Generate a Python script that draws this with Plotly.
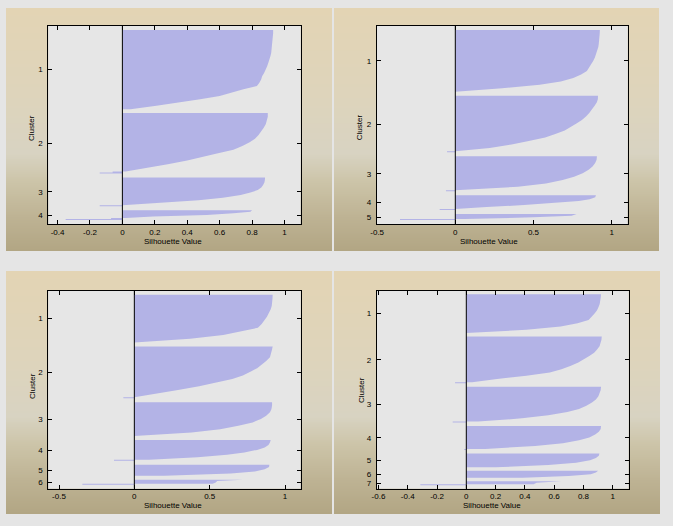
import zlib, struct, base64
import plotly.graph_objects as go

W, H = 673, 526

# ---------------- data ----------------
# Panel 1 : 4 clusters
P1_XTICKS = [-0.4, -0.2, 0, 0.2, 0.4, 0.6, 0.8, 1]
P1_XTICKTEXT = ["-0.4", "-0.2", "0", "0.2", "0.4", "0.6", "0.8", "1"]
P1_XRANGE = [-0.457, 1.1]
P1_SIZES = [80, 61, 29, 10]
P1_SPACE = 4
P1_PROFILES = [
    [0.93, 0.93, 0.928, 0.927, 0.926, 0.924, 0.922, 0.918, 0.913, 0.908, 0.90, 0.893, 0.885,
     0.875, 0.862, 0.856, 0.845, 0.83, 0.747, 0.675, 0.60, 0.48, 0.356, 0.21, 0.05],
    [0.897, 0.897, 0.892, 0.885, 0.872, 0.857, 0.84, 0.818, 0.785, 0.74, 0.685, 0.59, 0.50,
     0.40, 0.28, 0.16, 0.02],
    [0.88, 0.879, 0.876, 0.868, 0.857, 0.835, 0.79, 0.73, 0.62, 0.47, 0.26, 0.03],
    [0.80, 0.79, 0.685, 0.52, 0.19, 0.02],
]
P1_NEG = [[], [-0.06, -0.14], [-0.14], [-0.07, -0.35]]

# Panel 2 : 5 clusters
P2_XTICKS = [-0.5, 0, 0.5, 1]
P2_XTICKTEXT = ["-0.5", "0", "0.5", "1"]
P2_XRANGE = [-0.503, 1.103]
P2_SIZES = [62, 57, 35, 15, 6]
P2_SPACE = 4
P2_PROFILES = [
    [0.925, 0.924, 0.923, 0.921, 0.918, 0.915, 0.909, 0.902, 0.893, 0.883, 0.870, 0.855,
     0.842, 0.805, 0.755, 0.675, 0.54, 0.30, 0.03],
    [0.913, 0.912, 0.905, 0.89, 0.876, 0.857, 0.836, 0.81, 0.775, 0.74, 0.70, 0.64, 0.575,
     0.47, 0.36, 0.22, 0.015],
    [0.906, 0.904, 0.895, 0.878, 0.853, 0.815, 0.76, 0.687, 0.58, 0.40, 0.05],
    [0.90, 0.895, 0.86, 0.79, 0.64, 0.44, 0.20, 0.02],
    [0.776, 0.744, 0.50, 0.06],
]
P2_NEG = [[], [-0.053], [-0.06], [-0.10], [-0.354]]

# Panel 3 : 6 clusters
P3_XTICKS = [-0.5, 0, 0.5, 1]
P3_XTICKTEXT = ["-0.5", "0", "0.5", "1"]
P3_XRANGE = [-0.571, 1.104]
P3_SIZES = [48, 52, 34, 21, 11, 5]
P3_SPACE = 4
P3_PROFILES = [
    [0.918, 0.917, 0.915, 0.912, 0.905, 0.895, 0.88, 0.862, 0.845, 0.82, 0.715, 0.59, 0.37, 0.02],
    [0.918, 0.913, 0.908, 0.90, 0.875, 0.845, 0.815, 0.77, 0.72, 0.65, 0.54, 0.43, 0.29, 0.14, 0.015],
    [0.914, 0.914, 0.91, 0.90, 0.875, 0.84, 0.785, 0.69, 0.57, 0.38, 0.04],
    [0.905, 0.90, 0.89, 0.865, 0.815, 0.73, 0.615, 0.42, 0.10],
    [0.896, 0.894, 0.865, 0.80, 0.64, 0.20],
    [0.72, 0.55, 0.54, 0.52],
]
P3_NEG = [[], [-0.073], [], [-0.135], [], [-0.345]]

# Panel 4 : 7 clusters
P4_XTICKS = [-0.6, -0.4, -0.2, 0, 0.2, 0.4, 0.6, 0.8, 1]
P4_XTICKTEXT = ["-0.6", "-0.4", "-0.2", "0", "0.2", "0.4", "0.6", "0.8", "1"]
P4_XRANGE = [-0.612, 1.109]
P4_SIZES = [39, 47, 36, 24, 14, 7, 4]
P4_SPACE = 3.5
P4_PROFILES = [
    [0.92, 0.918, 0.916, 0.911, 0.903, 0.893, 0.876, 0.858, 0.835, 0.76, 0.645, 0.41, 0.07],
    [0.925, 0.923, 0.918, 0.91, 0.893, 0.873, 0.84, 0.805, 0.765, 0.71, 0.65, 0.57, 0.41, 0.21, 0.04],
    [0.92, 0.918, 0.912, 0.902, 0.885, 0.858, 0.82, 0.77, 0.69, 0.56, 0.38, 0.08],
    [0.92, 0.918, 0.905, 0.88, 0.84, 0.77, 0.66, 0.47, 0.13],
    [0.909, 0.905, 0.885, 0.845, 0.75, 0.56, 0.20],
    [0.90, 0.885, 0.85, 0.70, 0.385],
    [0.647, 0.48, 0.46],
]
P4_NEG = [[], [-0.077], [-0.093], [-0.014], [], [], [-0.314]]

# ---------------- styling ----------------
FIG_BG = "#e5e5e5"
PLOT_BG = "#e6e6e6"
BAR_COLOR = "rgb(179,179,230)"
FONT = dict(family="Liberation Sans, Arial, sans-serif", size=8, color="black")

# panel rectangles (px) and axes rectangles (px)
PANEL_PX = [(6, 8, 332, 251), (334, 8, 659, 251), (6, 271, 332, 514), (334, 271, 660, 514)]
AXES_PX = [(48.3, 26, 300.7, 224), (376.7, 26, 627.7, 224),
           (48.3, 290.7, 300.7, 488.7), (376.7, 290.7, 628.7, 488.7)]
XTITLE_PX = [(173.3, 241), (489.3, 241), (173.3, 505), (492.3, 505)]
YTITLE_PX = [(32, 128), (359.3, 127), (32.3, 385.7), (361, 390)]

GRAD_STOPS = [(0.0, (227, 212, 180)), (0.35, (222, 212, 187)), (0.6, (216, 211, 194)),
              (0.72, (204, 196, 168)), (0.86, (190, 179, 148)), (1.0, (178, 166, 132))]


def gradient_png(stops, h=256):
    raw = b""
    for i in range(h):
        t = i / (h - 1)
        for k in range(len(stops) - 1):
            t0, c0 = stops[k]
            t1, c1 = stops[k + 1]
            if t0 <= t <= t1:
                f = (t - t0) / (t1 - t0)
                c = [int(round(c0[j] + (c1[j] - c0[j]) * f)) for j in range(3)]
                break
        raw += b"\x00" + bytes(c)

    def chunk(tag, data):
        return (struct.pack(">I", len(data)) + tag + data +
                struct.pack(">I", zlib.crc32(tag + data) & 0xFFFFFFFF))

    png = (b"\x89PNG\r\n\x1a\n" +
           chunk(b"IHDR", struct.pack(">IIBBBBB", 1, h, 8, 2, 0, 0, 0)) +
           chunk(b"IDAT", zlib.compress(raw)) + chunk(b"IEND", b""))
    return "data:image/png;base64," + base64.b64encode(png).decode()


def build_panel(sizes, space, profiles, negs):
    xs, ys, centers = [], [], []
    s = space
    for size, prof, neg in zip(sizes, profiles, negs):
        pos = size - len(neg)
        n = len(prof)
        xs.append(0); ys.append(s)
        for i, v in enumerate(prof):
            xs.append(v); ys.append(s + pos * i / (n - 1))
        e = s + pos
        xs.append(0); ys.append(e)
        for j, v in enumerate(neg):
            xs += [v, v]; ys += [e + j, e + j + 1]
        if neg:
            xs.append(0); ys.append(e + len(neg))
        xs.append(None); ys.append(None)
        centers.append(s + size / 2)
        s += size + space
    return xs, ys, centers, s


PANELS = [
    (P1_SIZES, P1_SPACE, P1_PROFILES, P1_NEG, P1_XTICKS, P1_XTICKTEXT, P1_XRANGE),
    (P2_SIZES, P2_SPACE, P2_PROFILES, P2_NEG, P2_XTICKS, P2_XTICKTEXT, P2_XRANGE),
    (P3_SIZES, P3_SPACE, P3_PROFILES, P3_NEG, P3_XTICKS, P3_XTICKTEXT, P3_XRANGE),
    (P4_SIZES, P4_SPACE, P4_PROFILES, P4_NEG, P4_XTICKS, P4_XTICKTEXT, P4_XRANGE),
]

fig = go.Figure()
grad = gradient_png(GRAD_STOPS)
images, shapes, annotations = [], [], []
layout_axes = {}

for idx, (sizes, space, profs, negs, xt, xtt, xr) in enumerate(PANELS):
    n = idx + 1
    xa = "x" if n == 1 else f"x{n}"
    ya = "y" if n == 1 else f"y{n}"
    xs, ys, centers, total = build_panel(sizes, space, profs, negs)
    fig.add_trace(go.Scatter(x=xs, y=ys, mode="lines", fill="toself",
                             fillcolor=BAR_COLOR, line=dict(width=0),
                             hoverinfo="skip", showlegend=False, xaxis=xa, yaxis=ya))

    px0, py0, px1, py1 = PANEL_PX[idx]
    images.append(dict(source=grad, xref="paper", yref="paper",
                       x=px0 / W, y=1 - py0 / H, sizex=(px1 - px0) / W, sizey=(py1 - py0) / H,
                       xanchor="left", yanchor="top", sizing="stretch", layer="below"))
    ax0, ay0, ax1, ay1 = AXES_PX[idx]
    shapes.append(dict(type="rect", xref=f"{xa} domain", yref=f"{ya} domain",
                       x0=0, x1=1, y0=0, y1=1, fillcolor=PLOT_BG,
                       line=dict(width=0), layer="below"))
    shapes.append(dict(type="line", xref=xa, yref=f"{ya} domain", x0=0, x1=0, y0=0, y1=1,
                       line=dict(color="black", width=1), layer="above"))

    axis_common = dict(showline=True, linecolor="black", linewidth=1, mirror="ticks",
                       ticks="inside", ticklen=4, tickcolor="black", tickwidth=1,
                       showgrid=False, zeroline=False, tickfont=FONT, fixedrange=True)
    key_x = "xaxis" if n == 1 else f"xaxis{n}"
    key_y = "yaxis" if n == 1 else f"yaxis{n}"
    layout_axes[key_x] = dict(axis_common, domain=[ax0 / W, ax1 / W], range=xr,
                              tickmode="array", tickvals=xt, ticktext=xtt,
                              anchor=ya)
    layout_axes[key_y] = dict(axis_common, domain=[1 - ay1 / H, 1 - ay0 / H],
                              range=[total, 0], tickmode="array", tickvals=centers,
                              ticktext=[str(i + 1) for i in range(len(sizes))],
                              anchor=xa, ticklabelstandoff=3)

    tx, ty = XTITLE_PX[idx]
    annotations.append(dict(text="Silhouette Value", xref="paper", yref="paper",
                            x=tx / W, y=1 - ty / H, showarrow=False, font=FONT,
                            xanchor="center", yanchor="middle"))
    yx, yy = YTITLE_PX[idx]
    annotations.append(dict(text="Cluster", xref="paper", yref="paper",
                            x=yx / W, y=1 - yy / H, showarrow=False, font=FONT,
                            textangle=-90, xanchor="center", yanchor="middle"))

fig.update_layout(
    width=W, height=H, autosize=False,
    margin=dict(l=0, r=0, t=0, b=0),
    paper_bgcolor=FIG_BG, plot_bgcolor=PLOT_BG,
    template="none", showlegend=False,
    images=images, shapes=shapes, annotations=annotations,
    font=FONT,
    **layout_axes,
)

fig.write_html("out.html", config=dict(displayModeBar=False))
